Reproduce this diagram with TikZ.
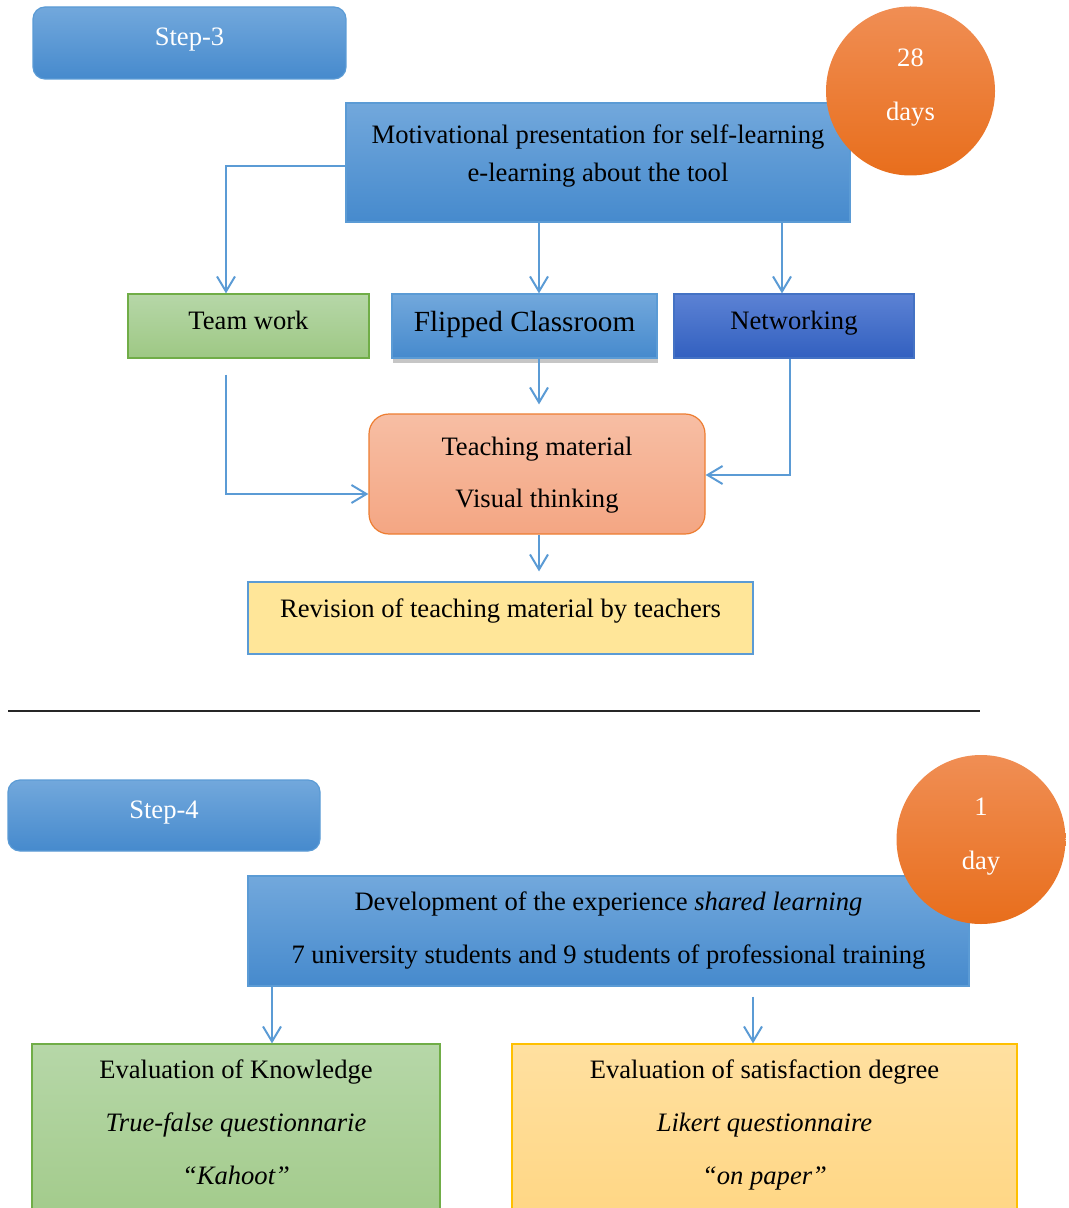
\documentclass[tikz,border=0pt]{standalone}
\usepackage{fontspec}
\setmainfont{Liberation Serif}
\usetikzlibrary{arrows.meta,positioning,calc,shadows}
\definecolor{blueTop}{RGB}{114,168,220}
\definecolor{blueBot}{RGB}{70,138,205}
\definecolor{blueEdge}{RGB}{91,155,213}
\definecolor{navyTop}{RGB}{92,130,212}
\definecolor{navyBot}{RGB}{50,96,192}
\definecolor{navyEdge}{RGB}{68,114,196}
\definecolor{greenTop}{RGB}{182,215,168}
\definecolor{greenBot}{RGB}{158,200,132}
\definecolor{greenEdge}{RGB}{112,173,71}
\definecolor{salmonTop}{RGB}{247,190,164}
\definecolor{salmonBot}{RGB}{244,166,131}
\definecolor{salmonEdge}{RGB}{237,125,49}
\definecolor{orangeTop}{RGB}{240,142,84}
\definecolor{orangeBot}{RGB}{232,110,28}
\definecolor{paleYellow}{RGB}{255,230,153}
\definecolor{goldTop}{RGB}{255,224,160}
\definecolor{goldBot}{RGB}{255,212,125}
\definecolor{goldEdge}{RGB}{255,192,0}
\definecolor{arrowcol}{RGB}{91,155,213}
\newcommand{\bodyfont}[1]{\fontsize{13.3}{#1}\selectfont}

\begin{document}
\begin{tikzpicture}[x=0.5pt, y=-0.5pt,
  shape base/.style={inner sep=0pt, line width=0.6pt},
  bluebox/.style={shape base, draw=blueEdge, top color=blueTop, bottom color=blueBot},
  navybox/.style={shape base, draw=navyEdge, top color=navyTop, bottom color=navyBot},
  greenbox/.style={shape base, draw=greenEdge, top color=greenTop, bottom color=greenBot},
  salmonbox/.style={shape base, draw=salmonEdge, top color=salmonTop, bottom color=salmonBot,
                    rounded corners=10pt},
  goldbox/.style={shape base, draw=goldEdge, top color=goldTop, bottom color=goldBot},
  daycircle/.style={circle, inner sep=0pt, minimum size=84.5pt,
                    top color=orangeTop, bottom color=orangeBot},
  txt/.style={align=center, inner sep=0pt, font=\bodyfont{#1}},
  txt/.default=16pt,
  wtxt/.style={txt=#1, text=white},
  wtxt/.default=16pt,
  ar/.style={-{Straight Barb[length=7.5pt, width=9pt]}, line width=1pt, draw=arrowcol},
]
  \useasboundingbox (0,0) rectangle (1069,1208);
  \clip (0,0) rectangle (1069,1208);

  % columns and rows the connectors run along
  \coordinate (colT) at (226,0);
  \coordinate (colA) at (539,0);
  \coordinate (colB) at (782,0);
  \coordinate (colN) at (790,0);
  \coordinate (colL) at (272,0);
  \coordinate (colR) at (753,0);
  \coordinate (rowM) at (0,166);
  \coordinate (rowT) at (0,494);
  \coordinate (rowN) at (0,475);

  % ---- step 3
  \node[bluebox, rounded corners=6pt, minimum width=156.5pt, minimum height=36pt] (step3) at (189.5,43) {};
  \node[wtxt] (step3-t) at ([yshift=1.5pt]step3.center) {Step-3};

  \node[bluebox, minimum width=252pt, minimum height=59.5pt] (motiv) at (598,162.5) {};
  \node[txt=19pt] (motiv-t) at ([yshift=3.25pt]motiv.center)
       {Motivational presentation for self-learning\\e-learning about the tool};

  \node[daycircle] (d28) at (910.5,91) {};
  \node[wtxt=27pt] (d28-t) at ([yshift=1.5pt]d28.center) {28\\days};

  \node[greenbox, minimum width=120.5pt, minimum height=32pt] (team) at (248.5,326) {};
  \node[txt] (team-t) at ([yshift=3pt]team.center) {Team work};

  \node[bluebox, minimum width=132.5pt, minimum height=32pt,
        drop shadow={shadow xshift=0.5pt, shadow yshift=-2.5pt, fill=black!50, opacity=0.45}] (flip) at (524.5,326) {};
  \node[txt, font=\fontsize{14.6}{17}\selectfont] (flip-t) at ([yshift=1pt]flip.center) {Flipped Classroom};

  \node[navybox, minimum width=120pt, minimum height=32pt] (net) at (794,326) {};
  \node[txt] (net-t) at ([yshift=1.5pt]net.center) {Networking};

  \node[salmonbox, minimum width=168pt, minimum height=60pt] (teach) at (537,474) {};
  \node[txt=26pt] (teach-t) at ([yshift=-0.5pt]teach.center) {Teaching material\\Visual thinking};

  \node[shape base, draw=blueEdge, fill=paleYellow, minimum width=252.5pt, minimum height=36pt] (rev) at (500.5,618) {};
  \node[txt] (rev-t) at ([yshift=3.5pt]rev.center) {Revision of teaching material by teachers};

  \draw[ar] (motiv.west |- rowM) -| (team.north -| colT);
  \draw[ar] (motiv.south -| colA) -- (flip.north -| colA);
  \draw[ar] (motiv.south -| colB) -- (net.north -| colB);
  \draw[ar, shorten >=4.5pt] (flip.south -| colA) -- (teach.north -| colA);
  \draw[ar, shorten <=8pt] (team.south -| colT) |- (teach.west |- rowT);
  \draw[ar] (net.south -| colN) |- (teach.east |- rowN);
  \draw[ar, shorten >=5pt] (teach.south -| colA) -- (rev.north -| colA);

  % separator
  \draw[line width=0.7pt, black!85] (8,711) -- (980,711);

  % ---- step 4
  \node[bluebox, rounded corners=6pt, minimum width=156pt, minimum height=35.5pt] (step4) at (164,815.5) {};
  \node[wtxt] (step4-t) at ([yshift=1.25pt]step4.center) {Step-4};

  \node[bluebox, minimum width=360.5pt, minimum height=55pt] (dev) at (608.5,931) {};
  \node[txt=26.5pt] (dev-t) at ([yshift=0.25pt]dev.center)
       {Development of the experience \textit{shared learning}\\7 university students and 9 students of professional training};

  \node[daycircle] (d1) at (981,839.5) {};
  \node[wtxt=27pt] (d1-t) at ([yshift=1.25pt]d1.center) {1\\day};

  \node[greenbox, minimum width=204pt, minimum height=108pt] (know) at (236,1152) {};
  \node[txt=26.5pt] (know-t) at (236,1122)
       {Evaluation of Knowledge\\\textit{True-false questionnarie}\\\textit{``Kahoot''}};

  \node[goldbox, minimum width=252.5pt, minimum height=108pt] (satis) at (764.5,1152) {};
  \node[txt=26.5pt] (satis-t) at (764.5,1125)
       {Evaluation of satisfaction degree\\\textit{Likert questionnaire}\\\textit{``on paper''}};

  \draw[ar] (dev.south -| colL) -- (know.north -| colL);
  \draw[ar, shorten <=5pt] (dev.south -| colR) -- (satis.north -| colR);
\end{tikzpicture}
\end{document}
